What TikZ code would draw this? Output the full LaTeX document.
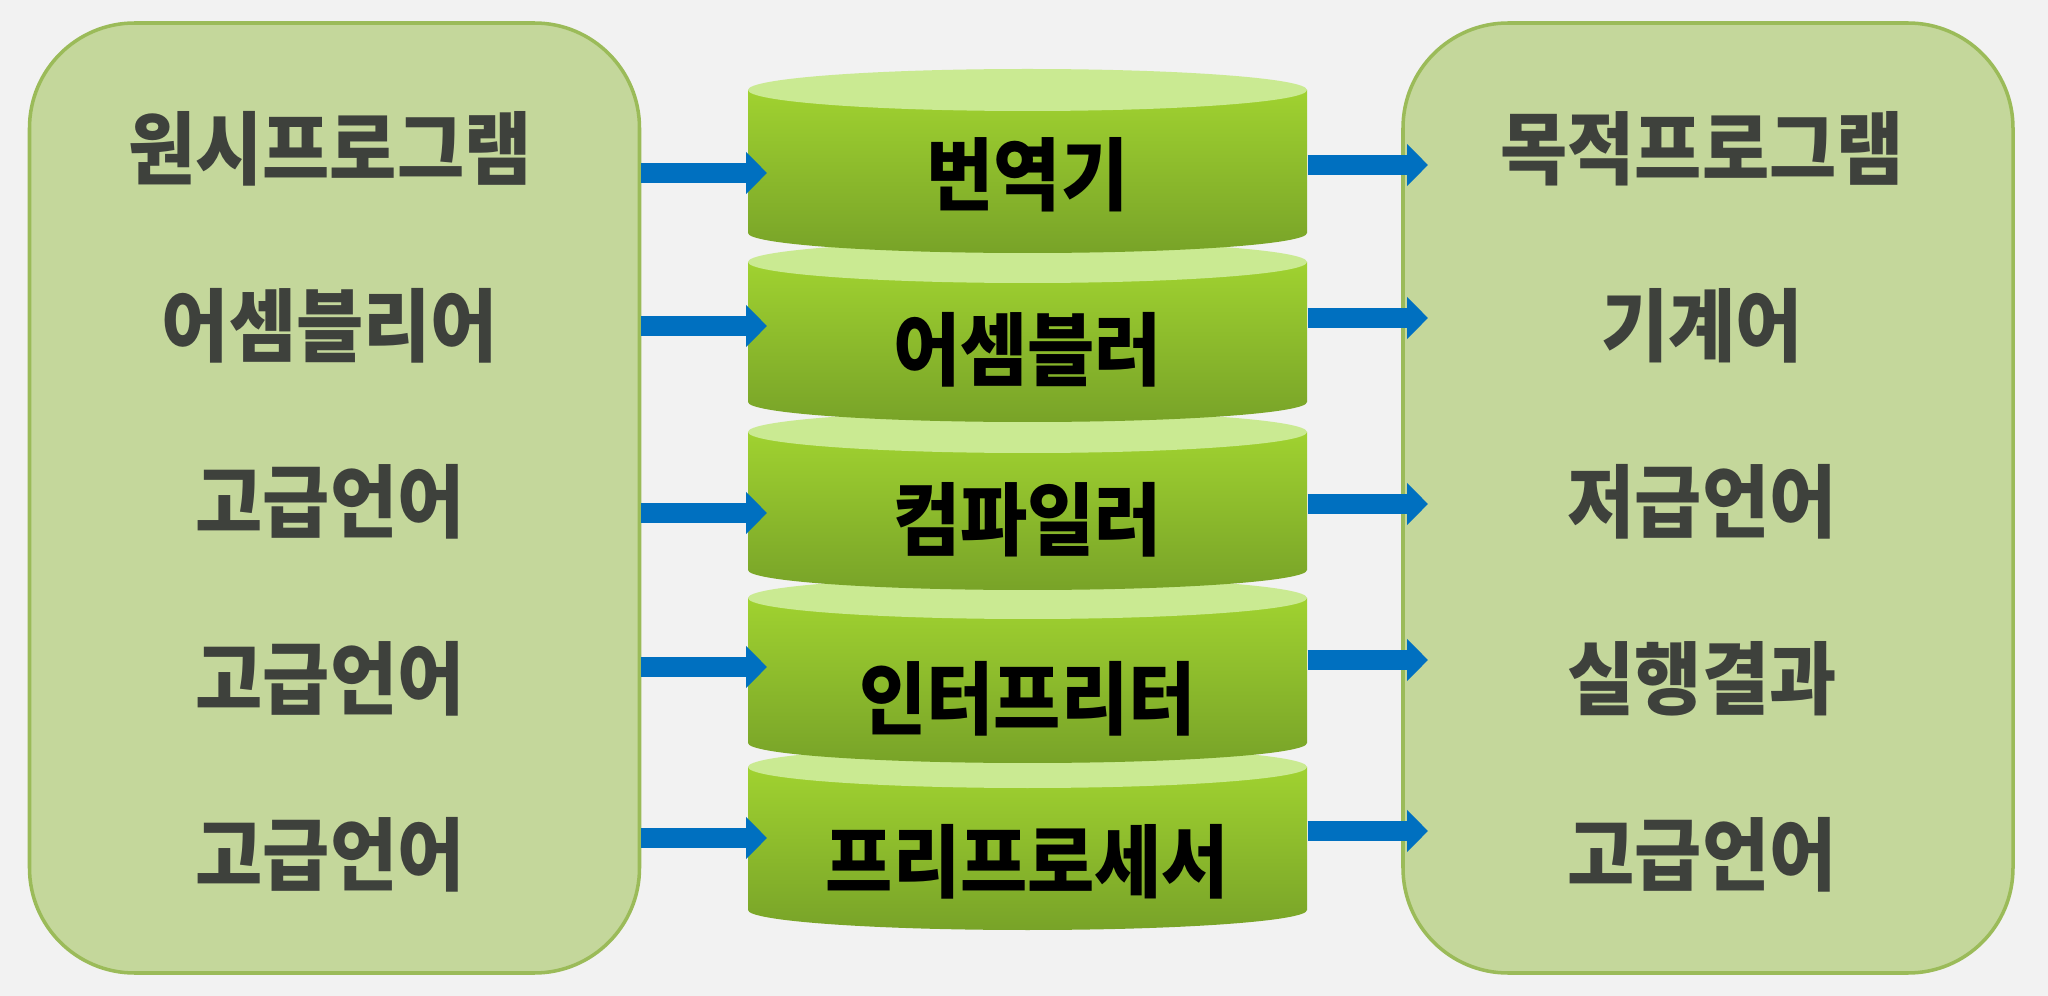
\documentclass[tikz,border=0pt]{standalone}
\usepackage{fontspec}
\usepackage{tikz}
\usetikzlibrary{arrows.meta, positioning}
\newfontfamily\krfont{Noto Sans CJK KR Black}[FakeStretch=0.92]
\definecolor{pagegray}{RGB}{242,242,242}
\definecolor{panelfill}{RGB}{196,215,155}
\definecolor{paneledge}{RGB}{155,187,89}
\definecolor{paneltext}{RGB}{62,65,60}
\definecolor{disktop}{RGB}{160,210,48}
\definecolor{diskbot}{RGB}{120,163,40}
\definecolor{disklid}{RGB}{202,234,146}
\definecolor{flowblue}{RGB}{0,112,192}

\begin{document}
\begin{tikzpicture}[
    node distance=1.765cm, on grid,
    panel/.style={rectangle, rounded corners=1.05cm, draw=paneledge, fill=panelfill,
                  line width=1pt, minimum width=6.1cm, minimum height=9.5cm},
    item/.style={font=\krfont\fontsize{22.6}{27}\selectfont, text=paneltext, inner sep=0pt},
    disk/.style={font=\krfont\fontsize{22.6}{27}\selectfont, text=black,
                 minimum width=5.59cm, inner sep=0pt},
    body/.style={top color=disktop, bottom color=diskbot},
    lid/.style={fill=disklid},
    arrow/.style={-{Triangle[width=0.41cm, length=0.21cm]}, line width=0.2cm, color=flowblue}
  ]
    \fill[pagegray] (0,0) rectangle (20.48,-9.96);

    \node[panel] (src) at (3.345,-4.98) {};
    \node[panel] (dst) at (17.08,-4.98) {};

    \shade[body] (7.48,-7.67) -- (7.48,-9.10) arc[start angle=180, end angle=360, x radius=2.795, y radius=0.2] -- (13.07,-7.67) -- cycle;
    \fill[lid] (10.275,-7.67) ellipse[x radius=2.795, y radius=0.21];
    \shade[body] (7.48,-5.98) -- (7.48,-7.43) arc[start angle=180, end angle=360, x radius=2.795, y radius=0.2] -- (13.07,-5.98) -- cycle;
    \fill[lid] (10.275,-5.98) ellipse[x radius=2.795, y radius=0.21];
    \shade[body] (7.48,-4.32) -- (7.48,-5.70) arc[start angle=180, end angle=360, x radius=2.795, y radius=0.2] -- (13.07,-4.32) -- cycle;
    \fill[lid] (10.275,-4.32) ellipse[x radius=2.795, y radius=0.21];
    \shade[body] (7.48,-2.62) -- (7.48,-4.02) arc[start angle=180, end angle=360, x radius=2.795, y radius=0.2] -- (13.07,-2.62) -- cycle;
    \fill[lid] (10.275,-2.62) ellipse[x radius=2.795, y radius=0.21];
    \shade[body] (7.48,-0.90) -- (7.48,-2.33) arc[start angle=180, end angle=360, x radius=2.795, y radius=0.2] -- (13.07,-0.90) -- cycle;
    \fill[lid] (10.275,-0.90) ellipse[x radius=2.795, y radius=0.21];

    \node[disk] (trans) at (10.275,-1.75) {번역기};
    \node[disk] (asm)   at (10.275,-3.50) {어셈블러};
    \node[disk] (comp)  at (10.275,-5.20) {컴파일러};
    \node[disk] (interp) at (10.275,-6.99) {인터프리터};
    \node[disk] (prep)  at (10.275,-8.62) {프리프로세서};

    \node[item] (src1) at (3.30,-1.49) {원시프로그램};
    \node[item, below=of src1] (src2) {어셈블리어};
    \node[item, below=of src2] (src3) {고급언어};
    \node[item, below=of src3] (src4) {고급언어};
    \node[item, below=of src4] (src5) {고급언어};

    \node[item] (dst1) at (17.02,-1.49) {목적프로그램};
    \node[item, below=of dst1] (dst2) {기계어};
    \node[item, below=of dst2] (dst3) {저급언어};
    \node[item, below=of dst3] (dst4) {실행결과};
    \node[item, below=of dst4] (dst5) {고급언어};

    \coordinate (in1) at (7.67,-1.73);
    \coordinate (in2) at (7.67,-3.26);
    \coordinate (in3) at (7.67,-5.13);
    \coordinate (in4) at (7.67,-6.67);
    \coordinate (in5) at (7.67,-8.38);
    \coordinate (out1) at (14.28,-1.65);
    \coordinate (out2) at (14.28,-3.18);
    \coordinate (out3) at (14.28,-5.04);
    \coordinate (out4) at (14.28,-6.60);
    \coordinate (out5) at (14.28,-8.31);

    \draw[arrow] (src.east |- in1) -- (in1);
    \draw[arrow] (src.east |- in2) -- (in2);
    \draw[arrow] (src.east |- in3) -- (in3);
    \draw[arrow] (src.east |- in4) -- (in4);
    \draw[arrow] (src.east |- in5) -- (in5);
    \draw[arrow] (trans.east |- out1) -- (out1);
    \draw[arrow] (asm.east |- out2) -- (out2);
    \draw[arrow] (comp.east |- out3) -- (out3);
    \draw[arrow] (interp.east |- out4) -- (out4);
    \draw[arrow] (prep.east |- out5) -- (out5);
  \end{tikzpicture}
\end{document}
